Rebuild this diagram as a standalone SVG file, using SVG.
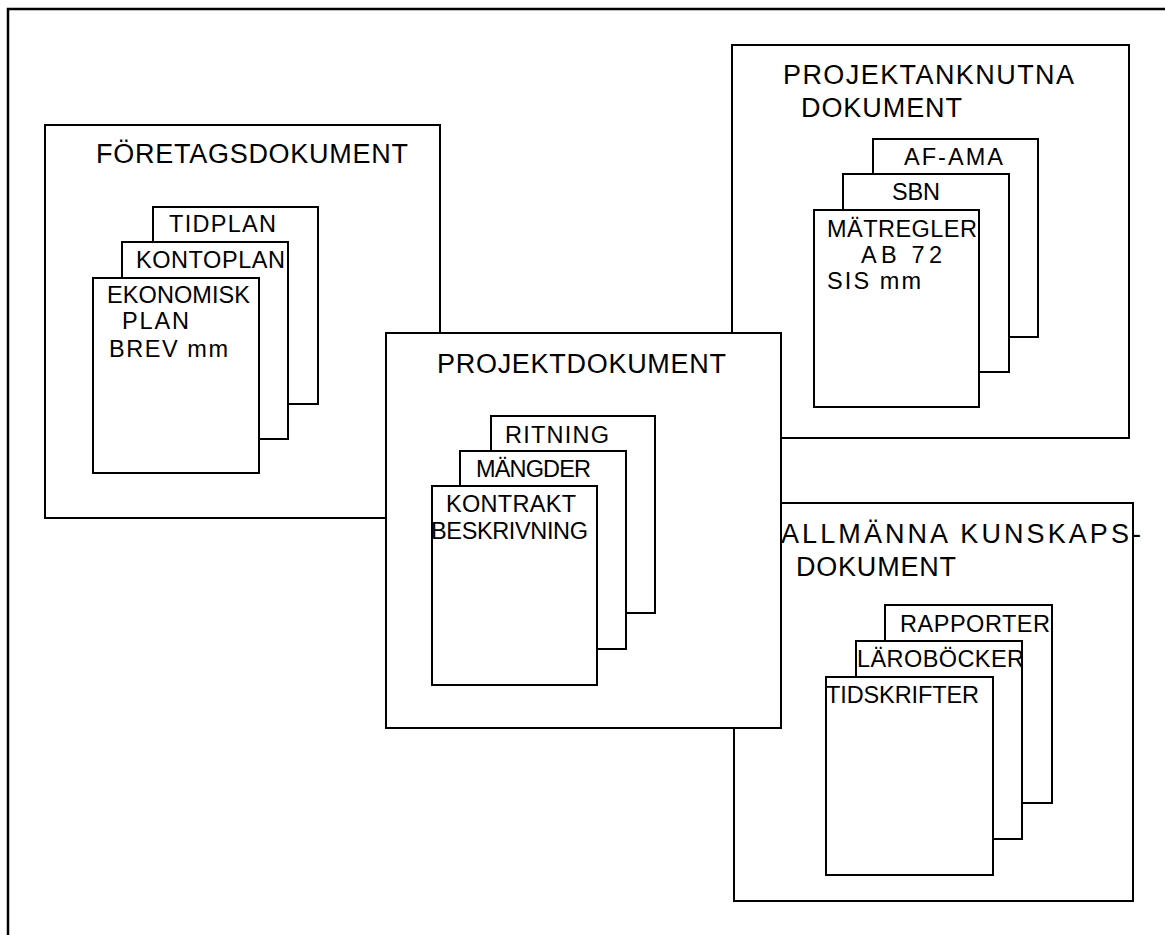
<svg xmlns="http://www.w3.org/2000/svg" width="1165" height="935" viewBox="0 0 1165 935">
<style>
  .box { fill: #ffffff; stroke: #000000; stroke-width: 2; }
  .frame { fill: none; stroke: #000000; stroke-width: 2.5; }
  .h { font-family: "Liberation Sans", Arial, sans-serif; font-size: 27px; fill: #000000; }
  .t { font-family: "Liberation Sans", Arial, sans-serif; font-size: 23.5px; fill: #000000; }
</style>
<rect x="0" y="0" width="1165" height="935" fill="#ffffff"/>
<path class="frame" d="M8,935 V9 H1165"/>

<g id="foretagsdokument">
  <rect class="box" x="45" y="125" width="395" height="393"/>
  <text class="h" x="96" y="163" textLength="312" lengthAdjust="spacing">FÖRETAGSDOKUMENT</text>
  <rect class="box" x="153" y="207" width="165" height="197"/>
  <text class="t" x="169" y="232" textLength="107" lengthAdjust="spacing">TIDPLAN</text>
  <rect class="box" x="122" y="242" width="166" height="197"/>
  <text class="t" x="136" y="268" textLength="149" lengthAdjust="spacing">KONTOPLAN</text>
  <rect class="box" x="93" y="278" width="166" height="195"/>
  <text class="t" x="107" y="303" textLength="143" lengthAdjust="spacing">EKONOMISK</text>
  <text class="t" x="122" y="329" textLength="67" lengthAdjust="spacing">PLAN</text>
  <text class="t" x="109" y="357" textLength="119" lengthAdjust="spacing">BREV mm</text>
</g>

<g id="projektanknutna-dokument">
  <rect class="box" x="732" y="45" width="397" height="393"/>
  <text class="h" x="783" y="84" textLength="291" lengthAdjust="spacing">PROJEKTANKNUTNA</text>
  <text class="h" x="801" y="117" textLength="161" lengthAdjust="spacing">DOKUMENT</text>
  <rect class="box" x="873" y="139" width="165" height="198"/>
  <text class="t" x="904" y="165" textLength="99" lengthAdjust="spacing">AF-AMA</text>
  <rect class="box" x="843" y="174" width="166" height="198"/>
  <text class="t" x="892" y="200" textLength="48" lengthAdjust="spacing">SBN</text>
  <rect class="box" x="814" y="210" width="165" height="197"/>
  <text class="t" x="827" y="237" textLength="150" lengthAdjust="spacing">MÄTREGLER</text>
  <text class="t" x="861" y="263" textLength="81" lengthAdjust="spacing">AB 72</text>
  <text class="t" x="827" y="289" textLength="94" lengthAdjust="spacing">SIS mm</text>
</g>

<g id="allmanna-kunskapsdokument">
  <rect class="box" x="734" y="503" width="399" height="398"/>
  <text class="h" x="781" y="543" textLength="360" lengthAdjust="spacing">ALLMÄNNA KUNSKAPS-</text>
  <text class="h" x="796" y="576" textLength="160" lengthAdjust="spacing">DOKUMENT</text>
  <rect class="box" x="885" y="605" width="167" height="198"/>
  <text class="t" x="900" y="632" textLength="150" lengthAdjust="spacing">RAPPORTER</text>
  <rect class="box" x="856" y="641" width="166" height="198"/>
  <text class="t" x="857" y="667" textLength="167" lengthAdjust="spacing">LÄROBÖCKER</text>
  <rect class="box" x="826" y="677" width="167" height="198"/>
  <text class="t" x="826" y="703" textLength="153" lengthAdjust="spacing">TIDSKRIFTER</text>
</g>

<g id="projektdokument">
  <rect class="box" x="386" y="333" width="395" height="395"/>
  <text class="h" x="437" y="373" textLength="289" lengthAdjust="spacing">PROJEKTDOKUMENT</text>
  <rect class="box" x="491" y="416" width="164" height="197"/>
  <text class="t" x="505" y="443" textLength="104" lengthAdjust="spacing">RITNING</text>
  <rect class="box" x="460" y="451" width="166" height="198"/>
  <text class="t" x="476" y="477" textLength="115" lengthAdjust="spacing">MÄNGDER</text>
  <rect class="box" x="432" y="486" width="165" height="199"/>
  <text class="t" x="446" y="512" textLength="130" lengthAdjust="spacing">KONTRAKT</text>
  <text class="t" x="431" y="539" textLength="157" lengthAdjust="spacing">BESKRIVNING</text>
</g>
</svg>
